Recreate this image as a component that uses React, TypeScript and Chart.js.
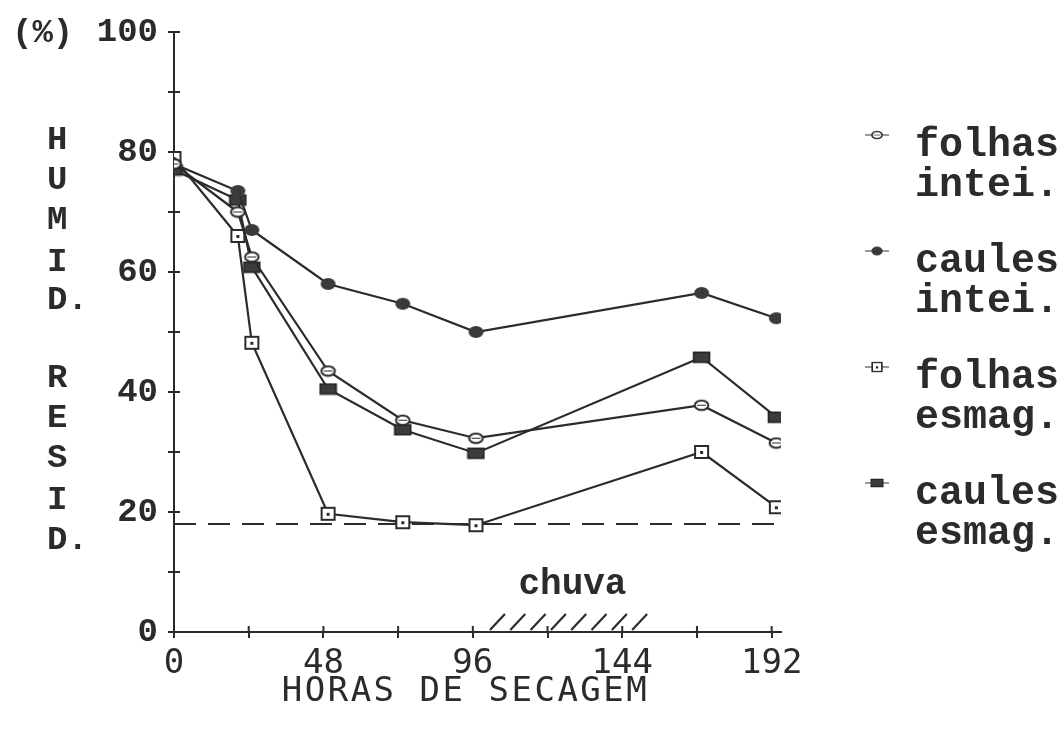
import React, { useEffect, useRef } from 'react';
import { Chart, registerables } from 'chart.js';

Chart.register(...registerables);

// ---- data ----
const hours = [0, 20.5, 25, 49.5, 73.5, 97, 169.5, 193.5];
const folhasInteiras = [78, 70, 62.5, 43.5, 35.3, 32.3, 37.8, 31.5];
const caulesInteiros = [78, 73.5, 67, 58, 54.7, 50, 56.5, 52.3];
const folhasEsmag = [79, 66, 48.2, 19.7, 18.3, 17.8, 30, 20.8];
const caulesEsmag = [77, 72, 60.8, 40.5, 33.7, 29.8, 45.8, 35.8];
const seriesLabels = [
  ['folhas', 'intei.'],
  ['caules', 'intei.'],
  ['folhas', 'esmag.'],
  ['caules', 'esmag.'],
];
const limiteHumidade = 18;
const limiteHoras = [0, 193.5];
const chuvaInicio = 101.5;
const chuvaFim = 152;
const chuvaTexto = 'chuva';
const chuvaTextoEm = 128;
const yTitleLetters = ['H', 'U', 'M', 'I', 'D.', 'R', 'E', 'S', 'I', 'D.'];
const xTitle = 'HORAS DE SECAGEM';
const yUnit = '(%)';

const INK = '#2b2b2b';

function makeMarker(kind: string): HTMLCanvasElement {
  const c = document.createElement('canvas');
  const ctx = c.getContext('2d')!;
  if (kind === 'openEllipse') {
    c.width = 17; c.height = 13;
    ctx.fillStyle = '#fff';
    ctx.strokeStyle = INK;
    ctx.lineWidth = 2;
    ctx.beginPath();
    ctx.ellipse(8.5, 6.5, 6.8, 4.8, 0, 0, Math.PI * 2);
    ctx.fill();
    ctx.stroke();
    ctx.lineWidth = 1;
    ctx.beginPath();
    ctx.moveTo(4, 6.5); ctx.lineTo(13, 6.5);
    ctx.stroke();
  } else if (kind === 'filledEllipse') {
    c.width = 17; c.height = 14;
    ctx.fillStyle = '#3a3a3a';
    ctx.beginPath();
    ctx.ellipse(8.5, 7, 7.5, 6, 0, 0, Math.PI * 2);
    ctx.fill();
  } else if (kind === 'openSquare') {
    c.width = 17; c.height = 16;
    ctx.fillStyle = '#fff';
    ctx.fillRect(1, 1, 15, 14);
    ctx.strokeStyle = INK;
    ctx.lineWidth = 2;
    ctx.strokeRect(2, 2, 13, 12);
    ctx.fillStyle = INK;
    ctx.fillRect(7, 7, 3, 3);
  } else {
    c.width = 19; c.height = 13;
    ctx.fillStyle = '#3c3c3c';
    ctx.fillRect(1, 1, 17, 11);
    ctx.strokeStyle = '#222';
    ctx.lineWidth = 1.5;
    ctx.strokeRect(1.5, 1.5, 16, 10);
  }
  return c;
}

export default function App() {
  const ref = useRef<HTMLCanvasElement | null>(null);

  useEffect(() => {
    document.body.style.margin = '0';
    document.body.style.background = '#ffffff';
    const canvas = ref.current!;
    const markers = [
      makeMarker('openEllipse'),
      makeMarker('filledEllipse'),
      makeMarker('openSquare'),
      makeMarker('filledRect'),
    ];
    const seriesValues = [folhasInteiras, caulesInteiros, folhasEsmag, caulesEsmag];

    const datasets: any[] = seriesValues.map((vals, i) => ({
      label: seriesLabels[i].join(' '),
      data: hours.map((h, j) => ({ x: h, y: vals[j] })),
      borderColor: INK,
      borderWidth: 2.2,
      pointStyle: markers[i],
      pointRadius: 7,
      tension: 0,
      fill: false,
    }));
    datasets.push({
      label: 'limite',
      data: limiteHoras.map((h) => ({ x: h, y: limiteHumidade })),
      borderColor: INK,
      borderWidth: 2,
      borderDash: [22, 12],
      pointRadius: 0,
      fill: false,
    });

    const background = {
      id: 'background',
      beforeDraw(chart: any) {
        const { ctx, width, height } = chart;
        ctx.save();
        ctx.fillStyle = '#ffffff';
        ctx.fillRect(0, 0, width, height);
        ctx.restore();
      },
    };

    const decor = {
      id: 'decor',
      afterDraw(chart: any) {
        const { ctx, chartArea } = chart;
        const x = chart.scales.x;
        const y = chart.scales.y;
        ctx.save();
        ctx.strokeStyle = INK;
        ctx.lineWidth = 2;
        // inner half of the crossing ticks
        y.ticks.forEach((t: any) => {
          const py = y.getPixelForValue(t.value);
          ctx.beginPath();
          ctx.moveTo(chartArea.left, py);
          ctx.lineTo(chartArea.left + 6, py);
          ctx.stroke();
        });
        x.ticks.forEach((t: any) => {
          const px = x.getPixelForValue(t.value);
          ctx.beginPath();
          ctx.moveTo(px, chartArea.bottom);
          ctx.lineTo(px, chartArea.bottom - 6);
          ctx.stroke();
        });

        // rain hatching
        const xs = x.getPixelForValue(chuvaInicio);
        const xe = x.getPixelForValue(chuvaFim);
        const n = 8;
        const slant = 15;
        ctx.lineWidth = 2.2;
        for (let i = 0; i < n; i++) {
          const xb = xs + (i * (xe - xs - slant)) / (n - 1);
          ctx.beginPath();
          ctx.moveTo(xb, chartArea.bottom - 2);
          ctx.lineTo(xb + slant, chartArea.bottom - 18);
          ctx.stroke();
        }
        ctx.fillStyle = INK;
        ctx.textBaseline = 'middle';
        ctx.textAlign = 'center';
        ctx.font = 'bold 36px "Liberation Mono"';
        ctx.fillText(chuvaTexto, x.getPixelForValue(chuvaTextoEm), chartArea.bottom - 47);

        // y unit and vertical title
        ctx.font = 'bold 34px "Liberation Mono"';
        ctx.textAlign = 'left';
        ctx.fillText(yUnit, 12, y.getPixelForValue(100) + 1);
        const ys = [140, 180, 220, 262, 300, 378, 418, 458, 500, 540];
        yTitleLetters.forEach((l, i) => {
          ctx.fillText(l, 47, ys[i]);
        });

        // x title
        ctx.font = '34px "DejaVu Sans Mono"';
        ctx.textAlign = 'center';
        (ctx as any).letterSpacing = '2.5px';
        ctx.fillText(xTitle, (chartArea.left + chartArea.right) / 2 - 12, 692);
        (ctx as any).letterSpacing = '0px';

        // legend
        ctx.font = 'bold 40px "Liberation Mono"';
        ctx.textAlign = 'left';
        seriesLabels.forEach((lines, i) => {
          const ly = 146 + i * 116;
          const mx = 877;
          const my = ly - 11;
          ctx.strokeStyle = '#555';
          ctx.lineWidth = 1.2;
          ctx.beginPath();
          ctx.moveTo(mx - 12, my);
          ctx.lineTo(mx + 12, my);
          ctx.stroke();
          const m = markers[i];
          const w = m.width * 0.75;
          const h = m.height * 0.75;
          ctx.drawImage(m, mx - w / 2, my - h / 2, w, h);
          ctx.fillStyle = INK;
          ctx.fillText(lines[0], 915, ly);
          ctx.fillText(lines[1], 915, ly + 40);
        });
        ctx.restore();
      },
    };

    const chart = new Chart(canvas, {
      type: 'line',
      data: { datasets },
      options: {
        responsive: false,
        animation: false,
        events: [],
        layout: { padding: { left: 0, top: 32, right: 278, bottom: 0 } },
        plugins: { legend: { display: false }, tooltip: { enabled: false } },
        scales: {
          x: {
            type: 'linear',
            min: 0,
            max: 195,
            afterFit: (s: any) => {
              s.height = 99;
            },
            border: { display: true, color: INK, width: 2 },
            grid: { drawOnChartArea: false, drawTicks: true, tickLength: 6, color: INK, lineWidth: 2 },
            ticks: {
              stepSize: 24,
              includeBounds: false,
              autoSkip: false,
              maxRotation: 0,
              padding: 6,
              color: INK,
              font: { family: 'DejaVu Sans Mono', size: 34 },
              callback: (v: any) => (Number(v) % 48 === 0 ? String(v) : ''),
            },
          },
          y: {
            type: 'linear',
            min: 0,
            max: 100,
            afterFit: (s: any) => {
              s.width = 174;
            },
            border: { display: true, color: INK, width: 2 },
            grid: { drawOnChartArea: false, drawTicks: true, tickLength: 6, color: INK, lineWidth: 2 },
            ticks: {
              stepSize: 10,
              autoSkip: false,
              padding: 10,
              color: INK,
              font: { family: 'Liberation Mono', size: 34, weight: 'bold' },
              callback: (v: any) => (Number(v) % 20 === 0 ? String(v) : ''),
            },
          },
        },
      } as any,
      plugins: [background, decor],
    });

    return () => {
      chart.destroy();
    };
  }, []);

  return (
    <canvas
      ref={ref}
      width={1059}
      height={731}
      style={{ display: 'block', width: 1059, height: 731 }}
    />
  );
}
